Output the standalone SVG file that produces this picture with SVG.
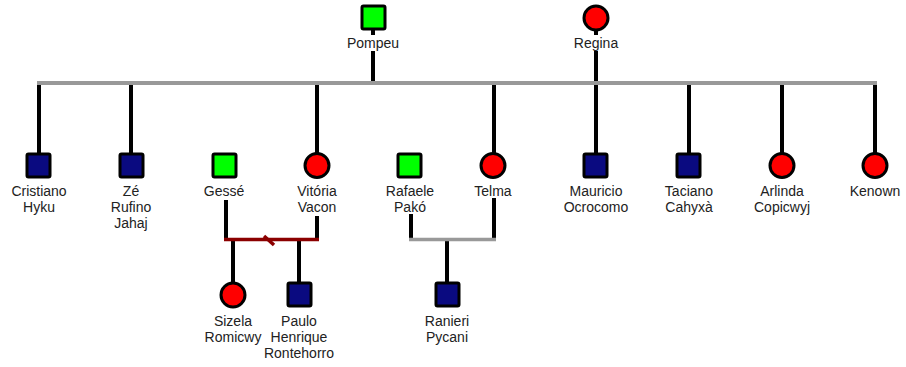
<svg xmlns="http://www.w3.org/2000/svg" width="906" height="367" viewBox="0 0 906 367">
  <style>
    .lbl { font-family: "Liberation Sans", Arial, sans-serif; font-size: 14px; fill: #222; text-anchor: middle; }
    .m { fill: #0a0a80; stroke: #000; stroke-width: 3; }
    .mg { fill: #00ff00; stroke: #000; stroke-width: 3; }
    .f { fill: #ff0000; stroke: #000; stroke-width: 3; }
    .ln { stroke: #000; stroke-width: 4; fill: none; }
    .sib { stroke: #999; stroke-width: 4; fill: none; }
    .cpl { stroke: #999; stroke-width: 3.5; fill: none; }
    .cpl2 { stroke: #8b0000; stroke-width: 3.5; fill: none; }
  </style>
  <rect width="906" height="367" fill="#fff"/>

  <g id="connectors">
    <!-- parents to sibling bar -->
    <line class="ln" x1="373" y1="29" x2="373" y2="35"/>
    <line class="ln" x1="373" y1="51" x2="373" y2="83"/>
    <line class="ln" x1="596" y1="29" x2="596" y2="35"/>
    <line class="ln" x1="596" y1="51" x2="596" y2="83"/>
    <!-- children drops -->
    <line class="ln" x1="39" y1="83" x2="39" y2="154"/>
    <line class="ln" x1="131" y1="83" x2="131" y2="154"/>
    <line class="ln" x1="317" y1="83" x2="317" y2="154"/>
    <line class="ln" x1="494" y1="83" x2="494" y2="154"/>
    <line class="ln" x1="596" y1="83" x2="596" y2="154"/>
    <line class="ln" x1="689" y1="83" x2="689" y2="154"/>
    <line class="ln" x1="782" y1="83" x2="782" y2="154"/>
    <line class="ln" x1="875" y1="83" x2="875" y2="154"/>
    <line class="sib" x1="37" y1="83" x2="877" y2="83"/>

    <!-- Gessé + Vitória -->
    <line class="ln" x1="226" y1="200" x2="226" y2="240"/>
    <line class="ln" x1="317" y1="216" x2="317" y2="240"/>
    <line class="ln" x1="233" y1="240" x2="233" y2="284"/>
    <line class="ln" x1="299" y1="240" x2="299" y2="284"/>
    <line class="cpl2" x1="224" y1="239.5" x2="319" y2="239.5"/>
    <line class="cpl2" x1="264" y1="236" x2="274" y2="245"/>

    <!-- Rafaele + Telma -->
    <line class="ln" x1="411" y1="214" x2="411" y2="240"/>
    <line class="ln" x1="494" y1="198" x2="494" y2="240"/>
    <line class="ln" x1="447" y1="240" x2="447" y2="284"/>
    <line class="cpl" x1="409" y1="239.5" x2="496" y2="239.5"/>
  </g>

  <g id="pompeu">
    <rect class="mg" x="362" y="6" width="23" height="23" rx="1.5"/>
    <text class="lbl" x="373" y="48">Pompeu</text>
  </g>
  <g id="regina">
    <circle class="f" cx="596" cy="18" r="12"/>
    <text class="lbl" x="596" y="48">Regina</text>
  </g>

  <g id="cristiano">
    <rect class="m" x="27" y="154" width="23" height="23" rx="1.5"/>
    <text class="lbl" x="39" y="196">Cristiano</text>
    <text class="lbl" x="39" y="212">Hyku</text>
  </g>
  <g id="ze">
    <rect class="m" x="120" y="154" width="23" height="23" rx="1.5"/>
    <text class="lbl" x="131" y="196">Zé</text>
    <text class="lbl" x="131" y="212">Rufino</text>
    <text class="lbl" x="131" y="228">Jahaj</text>
  </g>
  <g id="gesse">
    <rect class="mg" x="213" y="154" width="23" height="23" rx="1.5"/>
    <text class="lbl" x="224" y="196">Gessé</text>
  </g>
  <g id="vitoria">
    <circle class="f" cx="317" cy="165.5" r="12"/>
    <text class="lbl" x="317" y="196">Vitória</text>
    <text class="lbl" x="317" y="212">Vacon</text>
  </g>
  <g id="rafaele">
    <rect class="mg" x="398" y="154" width="23" height="23" rx="1.5"/>
    <text class="lbl" x="410" y="196">Rafaele</text>
    <text class="lbl" x="410" y="212">Pakó</text>
  </g>
  <g id="telma">
    <circle class="f" cx="493" cy="165.5" r="12"/>
    <text class="lbl" x="493" y="196">Telma</text>
  </g>
  <g id="mauricio">
    <rect class="m" x="584" y="154" width="23" height="23" rx="1.5"/>
    <text class="lbl" x="596" y="196">Mauricio</text>
    <text class="lbl" x="596" y="212">Ocrocomo</text>
  </g>
  <g id="taciano">
    <rect class="m" x="677" y="154" width="23" height="23" rx="1.5"/>
    <text class="lbl" x="689" y="196">Taciano</text>
    <text class="lbl" x="689" y="212">Cahyxà</text>
  </g>
  <g id="arlinda">
    <circle class="f" cx="782" cy="165.5" r="12"/>
    <text class="lbl" x="782" y="196">Arlinda</text>
    <text class="lbl" x="782" y="212">Copicwyj</text>
  </g>
  <g id="kenown">
    <circle class="f" cx="875" cy="165.5" r="12"/>
    <text class="lbl" x="875" y="196">Kenown</text>
  </g>

  <g id="sizela">
    <circle class="f" cx="233" cy="295" r="12"/>
    <text class="lbl" x="233" y="326">Sizela</text>
    <text class="lbl" x="233" y="342">Romicwy</text>
  </g>
  <g id="paulo">
    <rect class="m" x="288" y="283" width="23" height="23" rx="1.5"/>
    <text class="lbl" x="299" y="326">Paulo</text>
    <text class="lbl" x="299" y="342">Henrique</text>
    <text class="lbl" x="299" y="358">Rontehorro</text>
  </g>
  <g id="ranieri">
    <rect class="m" x="436" y="283" width="23" height="23" rx="1.5"/>
    <text class="lbl" x="447" y="326">Ranieri</text>
    <text class="lbl" x="447" y="342">Pycani</text>
  </g>
</svg>
